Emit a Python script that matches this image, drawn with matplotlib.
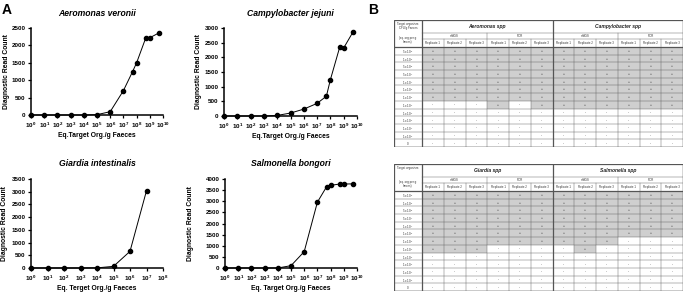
import matplotlib
matplotlib.use('Agg')
import matplotlib.pyplot as plt
from matplotlib.patches import Rectangle

plt.rcParams['font.family'] = ['Liberation Sans', 'DejaVu Sans']

W, H = 685, 293

# ---- panel A data ----
conc = [1e0, 1e1, 1e2, 1e3, 1e4, 1e5, 1e6, 1e7, 5e7, 1e8, 5e8, 1e9, 5e9]
aero_reads = [0, 0, 0, 0, 0, 10, 95, 700, 1250, 1500, 2220, 2220, 2360]
campy_reads = [0, 0, 0, 0, 20, 100, 235, 430, 675, 1240, 2345, 2320, 2865]
conc_giardia = [1e0, 1e1, 1e2, 1e3, 1e4, 1e5, 1e6, 1e7]
giardia_reads = [0, 0, 0, 0, 5, 65, 655, 3040]
salm_reads = [0, 0, 0, 0, 0, 105, 735, 2960, 3655, 3715, 3775, 3775, 3780]

# ---- panel B data ----
row_labels = ['5 x 10$\\mathregular{^{9}}$', '1 x 10$\\mathregular{^{9}}$',
              '5 x 10$\\mathregular{^{8}}$', '5 x 10$\\mathregular{^{7}}$',
              '1 x 10$\\mathregular{^{7}}$', '1 x 10$\\mathregular{^{6}}$',
              '1 x 10$\\mathregular{^{5}}$', '1 x 10$\\mathregular{^{4}}$',
              '1 x 10$\\mathregular{^{3}}$', '1 x 10$\\mathregular{^{2}}$',
              '1 x 10$\\mathregular{^{1}}$', '1 x 10$\\mathregular{^{0}}$', '0']
methods = ['mNGS', 'PCR']
replicates = ['Replicate 1', 'Replicate 2', 'Replicate 3']
# each string: mNGS rep1-3 then PCR rep1-3, '+' detected
aero_tab = ['++++++'] * 7 + ['---+-+'] + ['------'] * 5
campy_tab = ['++++++'] * 8 + ['------'] * 5
giardia_tab = ['++++++'] * 7 + ['+++---'] + ['------'] * 5
salm_tab = ['++++++'] * 6 + ['+++---', '-+----'] + ['------'] * 5


def px_rect(l, t, r, b):
    return [l / W, 1 - b / H, (r - l) / W, (b - t) / H]


fig = plt.figure(figsize=(W / 100, H / 100), dpi=100)


def line_panel(box, x, y, title, xlabel, ymax, xmax_exp, ylab_x):
    ax = fig.add_axes(px_rect(*box))
    ax.plot(x, y, color='black', lw=0.7, marker='o', ms=3.0,
            clip_on=False, zorder=3)
    ax.set_xscale('log')
    ax.set_xlim(1, 10 ** xmax_exp)
    ax.set_ylim(0, ymax)
    exps = list(range(0, xmax_exp + 1))
    ax.set_xticks([10 ** e for e in exps])
    ax.set_xticklabels(['$\\mathregular{10^{%d}}$' % e for e in exps],
                       fontsize=4.5, fontweight='bold')
    ax.minorticks_off()
    ax.set_yticks(range(0, ymax + 1, 500))
    ax.set_yticklabels([str(v) for v in range(0, ymax + 1, 500)],
                       fontsize=4.5, fontweight='bold')
    ax.tick_params(length=2.5, width=0.9, pad=1.5)
    for s in ['top', 'right']:
        ax.spines[s].set_visible(False)
    for s in ['left', 'bottom']:
        ax.spines[s].set_linewidth(1.1)
    ax.set_title(title, fontsize=6.2, fontweight='bold', style='italic', pad=9)
    ax.set_xlabel(xlabel, fontsize=4.9, fontweight='bold')
    ax.set_ylabel('Diagnostic Read Count', fontsize=4.9, fontweight='bold')
    bw = box[2] - box[0]
    bh = box[3] - box[1]
    ax.yaxis.set_label_coords((ylab_x - box[0]) / bw, 0.5)
    ax.xaxis.set_label_coords(0.5, -17 / bh)
    return ax


line_panel((31, 28, 163, 115), conc, aero_reads, 'Aeromonas veronii',
           'Eq.Target Org./g Faeces', 2500, 10, 9.5)
line_panel((224, 28, 357, 116), conc, campy_reads, 'Campylobacter jejuni',
           'Eq.Target Org./g Faeces', 3000, 10, 202.5)
line_panel((31, 179, 163, 268), conc_giardia, giardia_reads,
           'Giardia intestinalis', 'Eq. Terget Org./g Faeces', 3500, 8, 8.5)
line_panel((225, 179, 357, 268), conc, salm_reads, 'Salmonella bongori',
           'Eq. Target Org./g Faeces', 4000, 10, 193.5)


def draw_table(top, orgs, tabs, first_head):
    left, right = 394, 683
    height = 127
    ax = fig.add_axes(px_rect(left, top, right, top + height))
    ax.set_xlim(0, right - left)
    ax.set_ylim(height, 0)
    ax.axis('off')
    c0 = 28
    cw = (right - left - c0) / 12
    h1, h2, h3 = 13, 6, 8
    y0 = h1 + h2 + h3
    rh = (height - y0) / len(row_labels)
    grey = '#cfcfcf'
    lc = '#555555'
    # cells
    for k, tab in enumerate(tabs):
        for i, row in enumerate(tab):
            for j, v in enumerate(row):
                x = c0 + (k * 6 + j) * cw
                y = y0 + i * rh
                if v == '+':
                    ax.add_patch(Rectangle((x, y), cw, rh, fc=grey, ec='none'))
                ax.text(x + cw / 2, y + rh / 2, v, fontsize=2.4,
                        ha='center', va='center', color='#333333')
    # row labels
    for i, lab in enumerate(row_labels):
        ax.text(c0 / 2, y0 + (i + 0.55) * rh, lab, fontsize=2.2,
                ha='center', va='center_baseline', color='#333333')
    # horizontal lines
    for i in range(len(row_labels) + 1):
        y = y0 + i * rh
        ax.plot([0, right - left], [y, y], color=lc,
                lw=0.9 if i == 0 else 0.3)
    ax.plot([c0, right - left], [h1, h1], color=lc, lw=0.3)
    ax.plot([c0, right - left], [h1 + h2, h1 + h2], color=lc, lw=0.3)
    # vertical lines
    for c in range(13):
        x = c0 + c * cw
        if c % 6 == 0:
            ax.plot([x, x], [0, height], color=lc, lw=0.9)
        elif c % 3 == 0:
            ax.plot([x, x], [h1, height], color=lc, lw=0.3)
        else:
            ax.plot([x, x], [h1 + h2, height], color=lc, lw=0.3)
    ax.add_patch(Rectangle((0, 0), right - left, height, fc='none',
                           ec=lc, lw=0.9))
    # headers
    for k, org in enumerate(orgs):
        xc = c0 + (k * 6 + 3) * cw
        ax.text(xc, h1 / 2, org, fontsize=3.6, style='italic',
                fontweight='bold', ha='center', va='center', color='#222222')
        for m, meth in enumerate(methods):
            xm = c0 + (k * 6 + m * 3 + 1.5) * cw
            ax.text(xm, h1 + h2 / 2, meth, fontsize=2.2, ha='center',
                    va='center', color='#333333')
            for r, rep in enumerate(replicates):
                xr = c0 + (k * 6 + m * 3 + r + 0.5) * cw
                ax.text(xr, h1 + h2 + h3 / 2, rep, fontsize=2.1,
                        ha='center', va='center', color='#333333')
    ax.text(c0 / 2, 1.5, first_head, fontsize=2.1, ha='center', va='top',
            color='#333333', linespacing=1.0)
    ax.text(c0 / 2, y0 - 7, '(eq. org per g\nfaeces)', fontsize=2.1,
            ha='center', va='center', color='#333333', linespacing=1.0)


draw_table(20, ['Aeromonas spp', 'Campylobacter spp'], [aero_tab, campy_tab],
           'Target organism\nCFU/g Faeces')
draw_table(164, ['Giardia spp', 'Salmonella spp'], [giardia_tab, salm_tab],
           'Target organism')

fig.text(2 / W, 1 - 3 / H, 'A', fontsize=10, fontweight='bold', va='top')
fig.text(368 / W, 1 - 3 / H, 'B', fontsize=10, fontweight='bold', va='top')

fig.savefig('out.png', dpi=100)
